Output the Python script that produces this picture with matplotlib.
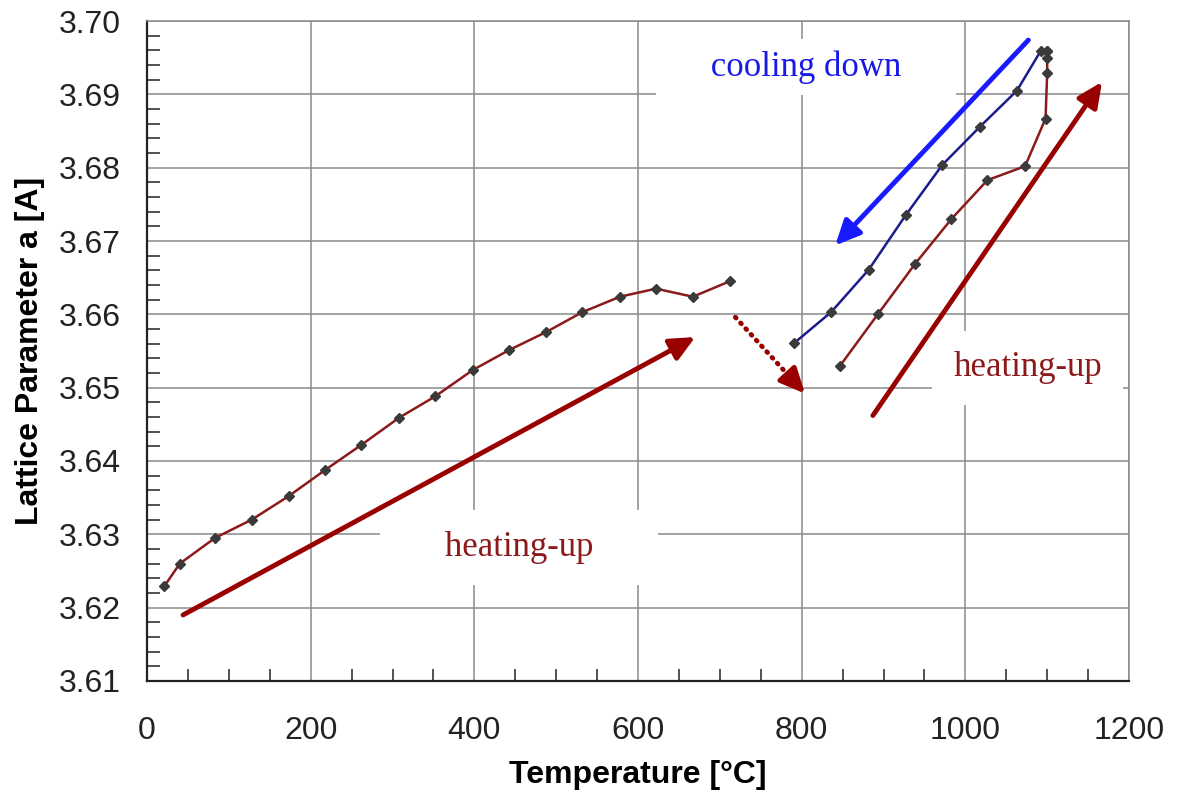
import matplotlib.pyplot as plt
from matplotlib.ticker import MultipleLocator

# heating run, room temperature up to ~710 °C
heat1_T = [21, 40, 83, 128, 173, 218, 262, 308, 352, 398, 442, 488, 532, 578, 622, 667, 712]
heat1_a = [3.6229, 3.6260, 3.6295, 3.6320, 3.6352, 3.6388, 3.6422, 3.6459, 3.6488,
           3.6524, 3.6551, 3.6576, 3.6603, 3.6624, 3.6635, 3.6624, 3.6645]

# second heating run, 850 -> 1100 °C
heat2_T = [847, 893, 938, 983, 1027, 1073, 1098, 1100, 1100, 1100]
heat2_a = [3.6530, 3.6600, 3.6668, 3.6730, 3.6783, 3.6802, 3.6867, 3.6929, 3.6949, 3.6959]

# cooling run back down from 1100 °C
cool_T = [1100, 1092, 1063, 1018, 972, 927, 882, 836, 791]
cool_a = [3.6959, 3.6959, 3.6905, 3.6856, 3.6804, 3.6735, 3.6661, 3.6603, 3.6561]

red = '#8c1a1a'
navy = '#1c1c8c'
arrow_red = '#990000'
mk = dict(marker='D', markersize=5, markerfacecolor='#3a3a3a', markeredgecolor='#3a3a3a')
head = '-|>,head_length=1.5,head_width=0.7'

fig = plt.figure(figsize=(11.79, 8.02), dpi=100)
ax = fig.add_axes([0.1247, 0.1509, 0.8329, 0.8229])

ax.plot(heat1_T, heat1_a, color=red, lw=1.8, zorder=4, **mk)
ax.plot(heat2_T, heat2_a, color=red, lw=1.8, zorder=4, **mk)
ax.plot(cool_T, cool_a, color=navy, lw=1.8, zorder=4, **mk)

ax.set_xlim(0, 1200)
ax.set_ylim(3.61, 3.70)
ax.xaxis.set_major_locator(MultipleLocator(200))
ax.xaxis.set_minor_locator(MultipleLocator(50))
ax.yaxis.set_major_locator(MultipleLocator(0.01))
ax.yaxis.set_minor_locator(MultipleLocator(0.002))
ax.yaxis.set_major_formatter(lambda v, p: f'{v:.2f}')
ax.grid(True, which='major', color='#8a8a8a', lw=1.1, zorder=0)
ax.set_axisbelow(True)

ax.tick_params(which='both', direction='in', top=False, right=False,
               labelsize=23, colors='#222222')
ax.tick_params(which='major', length=0)
ax.tick_params(which='minor', length=9, width=1.2, color='#333333')
ax.tick_params(axis='x', which='major', pad=25)
ax.tick_params(axis='y', which='major', pad=19)
for lab in ax.get_xticklabels() + ax.get_yticklabels():
    lab.set_fontfamily('Liberation Sans')

for s in ['left', 'bottom']:
    ax.spines[s].set_color('#222222')
    ax.spines[s].set_linewidth(1.6)
for s in ['top', 'right']:
    ax.spines[s].set_color('#8a8a8a')
    ax.spines[s].set_linewidth(1.1)

ax.set_xlabel('Temperature [°C]', fontsize=23, fontweight='bold',
              family='Liberation Sans', labelpad=10)
ax.set_ylabel('Lattice Parameter a [A]', fontsize=23, fontweight='bold',
              family='Liberation Sans', labelpad=10)

# direction arrows
ax.annotate('', xy=(670, 3.6569), xytext=(44, 3.6190),
            arrowprops=dict(arrowstyle=head, color=arrow_red, lw=3.5,
                            shrinkA=0, shrinkB=0), zorder=5)
ax.annotate('', xy=(1167, 3.6917), xytext=(887, 3.6462),
            arrowprops=dict(arrowstyle=head, color=arrow_red, lw=3.5,
                            shrinkA=0, shrinkB=0), zorder=5)
ax.annotate('', xy=(841, 3.6694), xytext=(1077, 3.6974),
            arrowprops=dict(arrowstyle=head, color='#1a1aff', lw=3.5,
                            shrinkA=0, shrinkB=0), zorder=5)

# dotted jump arrow: dotted shaft plus a solid head
x0, y0, x1, y1 = 719, 3.6596, 804, 3.6492
ax.annotate('', xy=(x0 + 0.82 * (x1 - x0), y0 + 0.82 * (y1 - y0)), xytext=(x0, y0),
            arrowprops=dict(arrowstyle='-', color=arrow_red, lw=3.5,
                            linestyle=(0, (0.2, 1.4)), capstyle='round',
                            shrinkA=0, shrinkB=0), zorder=5)
ax.annotate('', xy=(x1, y1), xytext=(x0 + 0.8 * (x1 - x0), y0 + 0.8 * (y1 - y0)),
            arrowprops=dict(arrowstyle=head, color=arrow_red, lw=3.5,
                            shrinkA=0, shrinkB=0), zorder=5)

ax.text(805, 3.6937, '     cooling down     ', color='#1a1ae6', fontsize=25,
        family='Liberation Serif', ha='center', va='center',
        bbox=dict(facecolor='white', edgecolor='none', pad=8), zorder=2)
ax.text(455, 3.6282, '     heating-up     ', color=red, fontsize=25,
        family='Liberation Serif', ha='center', va='center',
        bbox=dict(facecolor='white', edgecolor='none', pad=15), zorder=2)
ax.text(1076, 3.6527, 'heating-up', color=red, fontsize=25,
        family='Liberation Serif', ha='center', va='center',
        bbox=dict(facecolor='white', edgecolor='none', pad=15), zorder=2)

fig.savefig('out.png', dpi=100)
